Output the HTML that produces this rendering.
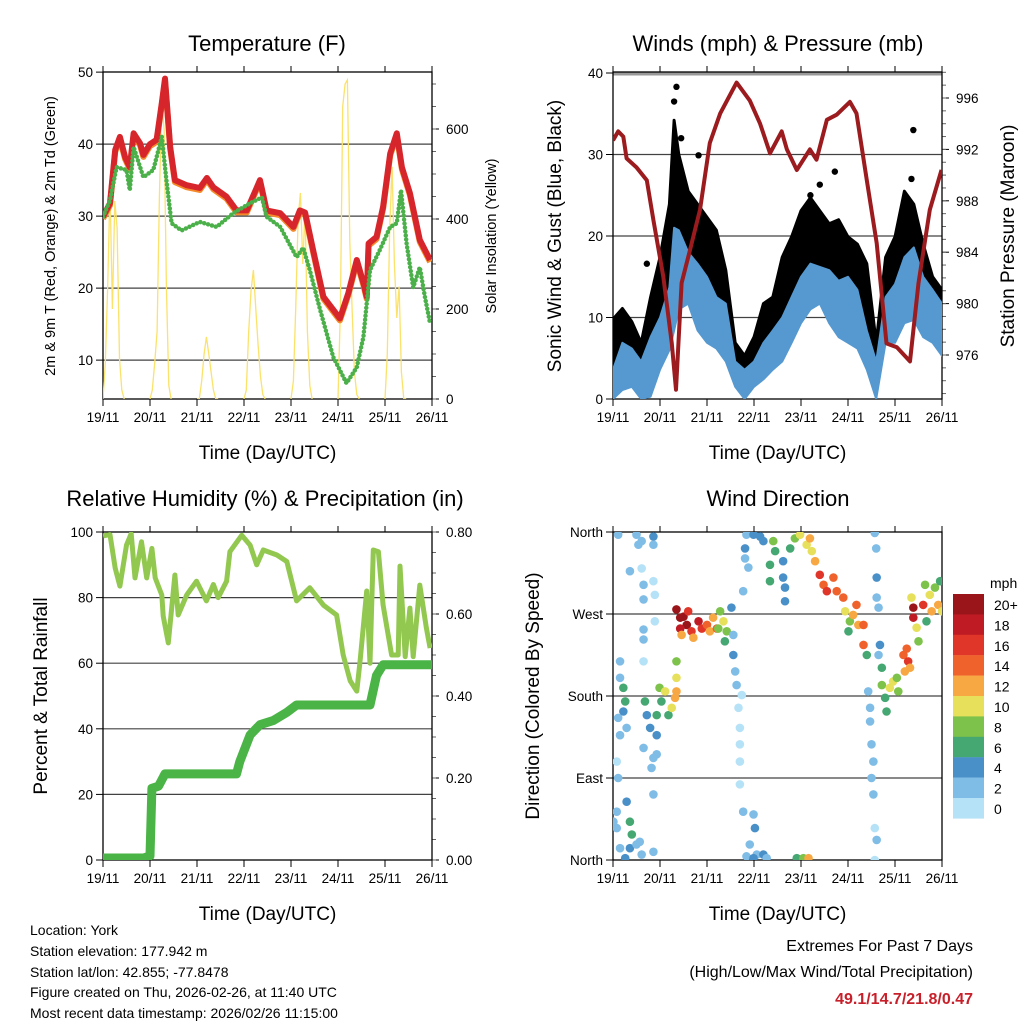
<!DOCTYPE html>
<html><head><meta charset="utf-8"><style>
html,body{margin:0;padding:0;background:#fff;}
svg{display:block;font-family:"Liberation Sans",Arial,sans-serif;}
</style></head><body>
<svg id="c" width="1024" height="1024" viewBox="0 0 1024 1024" xmlns="http://www.w3.org/2000/svg">
<rect x="0" y="0" width="1024" height="1024" fill="#fff"/>
<defs>
<clipPath id="cp1"><rect x="103" y="72" width="329" height="327"/></clipPath>
<clipPath id="cp2"><rect x="613" y="72" width="329" height="327"/></clipPath>
<clipPath id="cp3"><rect x="103" y="532" width="329" height="328"/></clipPath>
<clipPath id="cp4"><rect x="613" y="532" width="329" height="328"/></clipPath>
</defs>
<g font-size="14" fill="#000">
<text x="30" y="935">Location: York</text>
<text x="30" y="956">Station elevation: 177.942 m</text>
<text x="30" y="977">Station lat/lon: 42.855; -77.8478</text>
<text x="30" y="997">Figure created on Thu, 2026-02-26, at 11:40 UTC</text>
<text x="30" y="1018">Most recent data timestamp: 2026/02/26 11:15:00</text>
</g>
<g text-anchor="end" font-size="16">
<text x="973" y="951">Extremes For Past 7 Days</text>
<text x="973" y="977">(High/Low/Max Wind/Total Precipitation)</text>
<text x="973" y="1004" fill="#c8202a" font-weight="bold">49.1/14.7/21.8/0.47</text>
</g>
</svg>
<script>
// ---------- DATA ----------
const dayLabels=["19/11","20/11","21/11","22/11","23/11","24/11","25/11","26/11"];
const tempT=[0,0.15,0.26,0.36,0.47,0.57,0.65,0.79,0.86,1.0,1.14,1.25,1.32,1.43,1.53,1.78,2.06,2.21,2.35,2.63,2.84,3.06,3.34,3.48,3.77,4.05,4.19,4.30,4.47,4.69,5.04,5.22,5.40,5.54,5.61,5.65,5.82,5.96,6.11,6.25,6.36,6.53,6.74,6.96];
const tempV=[29.9,31.8,39.2,41,38.2,36.8,41.5,40.1,38.5,40,40.6,45.7,49.1,39.6,35,34.3,33.9,35.3,34,32.7,30.8,30.8,35,30.8,30.4,28.5,30.8,30.5,25.3,18.8,15.8,19.3,23.9,20.7,18.8,26.2,27.1,31.3,38.7,41.5,36.8,33.2,26.7,23.9];
const dewT=[0,0.15,0.29,0.5,0.57,0.65,0.86,1.07,1.25,1.35,1.46,1.67,2.06,2.42,2.77,3.13,3.38,3.48,3.77,4.12,4.26,4.40,4.62,4.90,5.18,5.40,5.54,5.68,5.89,6.11,6.25,6.34,6.46,6.60,6.74,6.85,6.96];
const dewV=[29.9,32.2,36.8,36.4,33.6,39.6,35.4,36.4,41,35,29,28,29.2,28.5,30.4,31.8,32.6,29.9,28.5,24.3,25.6,22.5,17,10.4,6.8,9,13.2,22.5,25.3,28.5,29,33.6,26.2,20.1,22.9,18.8,15.1];
const solarStart=[0,1,2,3,4,5,6];
const solarOffsets=[0,0.05,0.1,0.15,0.2,0.25,0.3,0.35,0.4,0.45];
const solarValues=[
 [0,80,250,470,200,440,380,90,20,0],
 [0,20,80,150,450,664,600,250,30,0],
 [0,0,40,100,138,100,60,20,0,0],
 [0,20,150,240,287,200,120,50,10,0],
 [0,40,200,400,458,300,420,150,30,0],
 [0,200,650,700,709,350,200,60,10,0],
 [0,100,380,516,300,180,250,60,0,0]];
const windT=[0,0.2,0.4,0.6,0.8,1.0,1.2,1.3,1.4,1.6,1.8,2.0,2.2,2.4,2.6,2.8,3.0,3.2,3.4,3.6,3.8,4.0,4.2,4.4,4.6,4.8,5.0,5.2,5.4,5.6,5.8,6.0,6.2,6.4,6.6,6.8,7.0];
const windHi=[3.6,6.9,6.2,4.6,7.6,10,13.7,21,20.7,18,16.6,15,12.5,11.7,4.6,3.6,4.6,6.9,8.4,10,12.5,15,16.6,16.2,15.8,14.5,15,13.4,8.4,4.6,12.5,14.1,17.4,18.6,15,13.4,11.7];
const windLo=[0,1.1,1.5,0,0.3,3.6,6,8.4,11,11.7,8.4,6.9,6.2,4.6,1.5,0,1.5,2.4,3.6,4.6,6.9,9.3,11,11.7,9.3,7.6,6.9,6.2,3.6,0,6.9,6.9,9.3,9.7,7.6,6.9,5.3];
const gustHi=[9.8,11.1,9.5,6.9,12.5,17.4,23.9,34.2,30,25.5,23.9,22.3,20.7,15.8,6.9,5.3,7.6,11.7,12.5,17.4,19.9,23.1,24.7,23.1,21.5,22,19.9,19,16.6,6.9,17.4,19.9,25.5,23.9,19,15,13.4];
const gustOutT=[1.35,6.39,4.4,4.72,1.82,0.72,1.3,1.45,4.2,6.35];
const gustOutV=[38.3,33.0,26.3,27.9,29.9,16.6,36.5,32,25,27];
const presT=[0,0.11,0.22,0.29,0.5,0.72,0.86,1.07,1.25,1.34,1.46,1.64,1.85,2.06,2.28,2.63,2.91,3.13,3.34,3.59,3.7,3.91,4.19,4.33,4.55,4.76,5.04,5.18,5.4,5.61,5.82,6.04,6.32,6.5,6.74,6.99];
const presV=[992.7,993.4,993,991.3,990.6,989.6,986.5,982.1,976.9,973.3,981.6,984.2,987.3,992.5,994.8,997.2,995.8,994,991.7,993.4,992,990.4,992,991.2,994.3,994.7,995.7,994.8,989.6,984.7,976.9,976.6,975.5,981.6,987.3,990.4];
const rhT=[0,0.15,0.26,0.36,0.5,0.6,0.68,0.82,0.93,1.04,1.11,1.25,1.28,1.39,1.53,1.6,1.78,1.99,2.2,2.35,2.45,2.63,2.7,2.95,3.13,3.27,3.41,3.7,3.91,4.12,4.4,4.69,4.97,5.11,5.26,5.4,5.47,5.61,5.68,5.75,5.86,5.96,6.14,6.28,6.32,6.43,6.53,6.6,6.74,6.88,6.96];
const rhV=[98.8,99.2,89,83.5,96,99.5,86,97,86,95,86,80.8,74.4,66.2,86.9,74.7,80.8,85,79,84,80,85,94,99,96,90,94.5,93,91,79,83,77.7,74.7,62.5,54.6,51.5,60.7,82,60,94.5,94,77.7,62.5,62.5,89.6,62,76.8,62,83.8,70.7,64.6];
const prT=[0,0.86,1.0,1.04,1.18,1.32,2.84,2.91,3.13,3.34,3.62,3.91,4.12,5.68,5.82,5.96,7.0];
const prV=[0.005,0.005,0.01,0.175,0.18,0.21,0.21,0.24,0.305,0.33,0.34,0.36,0.378,0.378,0.45,0.476,0.476];
const dirT=[0.08,0.08,0.15,0.36,0.40,0.36,0.5,0.57,0.61,0.86,0.86,0.29,0.26,0.01,
 0.11,0.5,0.54,0.61,0.86,0.86,0.36,0.61,0.65,0.65,0.86,0.89,0.89,0.65,0.65,0.65,
 0.15,0.15,0.22,0.26,0.22,0.11,0.29,0.15,0.08,0.11,
 0.68,0.72,0.79,0.93,0.93,1.03,0.99,1.11,1.18,1.25,1.32,1.35,1.35,1.35,0.65,0.93,0.82,0.86,
 1.35,1.43,1.5,1.57,1.43,1.46,1.67,1.71,1.82,1.89,2.0,2.06,2.13,2.21,2.28,2.35,2.42,2.38,2.24,1.6,
 2.52,2.56,2.56,2.6,2.63,2.67,2.7,2.7,2.7,2.7,2.77,2.99,3.02,2.91,2.84,3.06,3.2,3.27,2.99,2.74,
 2.84,2.99,3.13,3.2,2.81,2.81,2.77,2.88,
 3.41,3.45,3.34,3.34,3.62,3.62,3.66,3.66,3.77,3.87,
 3.98,4.12,4.19,4.23,
 4.3,4.4,4.48,4.55,4.69,4.76,4.9,4.94,5.04,5.18,5.22,5.33,5.33,5.4,5.01,5.11,
 5.57,5.6,5.61,5.61,5.65,5.68,5.65,5.43,5.47,5.47,5.5,5.54,5.5,5.54,5.57,5.61,5.57,
 5.72,5.72,5.79,5.89,5.96,6.04,6.07,6.18,6.25,6.28,6.32,6.21,5.82,
 6.35,6.39,6.39,6.46,6.5,6.6,6.64,6.74,6.78,6.85,6.92,6.96,7.0,6.67,
 3.91,4.05,4.16];
const dirDeg=[53,35,13,42,28,13,17,20,6,72,9,64,2,42,
 357,357,346,350,355,346,317,320,302,286,306,291,262,253,242,218,
 218,200,189,174,163,156,145,137,108,90,
 174,159,145,137,159,174,189,185,159,167,178,185,200,218,123,116,101,112,
 275,266,267,258,254,247,251,244,262,254,258,251,266,254,273,262,251,240,254,273,
 277,247,225,207,192,167,145,127,108,83,53,50,35,17,4,6,6,2,2,181,
 357,357,355,350,342,331,295,321,
 350,339,324,306,328,310,299,284,342,353,
 357,346,353,339,
 328,313,302,295,310,295,288,273,262,280,258,258,236,225,251,269,
 359,342,310,288,277,236,225,185,167,152,127,108,90,72,35,22,0,
 211,192,178,189,196,200,185,225,232,218,211,207,163,
 288,277,266,255,240,280,302,291,273,299,280,306,273,262,
 2,2,2];
const dirSpd=[2,2,3,6,6,5,3,2,3,2,3,4,4,2,
 2,2,2,2,4,2,3,1,2,3,1,1,1,2,2,1,
 3,2,6,6,4,2,2,2,1,2,
 6,4,4,4,6,7,9,10,7,11,12,12,10,8,2,3,2,2,
 20,20,21,20,18,12,17,13,18,16,14,13,12,15,9,10,8,7,9,16,
 4,3,4,2,2,1,1,1,1,1,2,2,4,2,2,3,4,3,4,1,
 2,4,4,4,4,2,2,3,
 8,7,6,6,4,4,4,4,6,8,
 10,10,12,11,
 12,16,15,16,14,15,14,10,8,14,12,14,15,7,6,12,
 2,2,4,2,2,4,3,2,2,2,2,2,3,2,1,2,1,
 6,8,6,10,10,8,8,14,14,17,12,12,6,
 10,20,18,10,8,16,8,10,12,8,12,6,10,6,
 7,8,12];
const cbLabels=["0","2","4","6","8","10","12","14","16","18","20+"];
const cbColors=["#b6e2f7","#7fbce6","#4a90c8","#45a771","#7dc24a","#e6e05a","#f8a843","#f0622b","#e0362a","#bf1b24","#9a1519"];
const tempTicks=[10,20,30,40,50];
const solarTicks=[0,200,400,600];
const windTicks=[0,10,20,30,40];
const presTicks=[976,980,984,988,992,996];
const rhTicks=[0,20,40,60,80,100];
const prTicks=[0,0.2,0.4,0.6,0.8];
const dirTicks=[0,90,180,270,360];
const dirNames=["North","East","South","West","North"];

// ---------- HELPERS ----------
const NS="http://www.w3.org/2000/svg";
const svg=document.getElementById('c');
function mk(tag,attrs,parent){const e=document.createElementNS(NS,tag);for(const k in attrs)e.setAttribute(k,attrs[k]);(parent||svg).appendChild(e);return e;}
function txt(x,y,s,size,anchor,parent,rot){const e=mk('text',{x:x,y:y,'font-size':size,'text-anchor':anchor||'middle'},parent);if(rot)e.setAttribute('transform','rotate(-90 '+x+' '+y+')');e.textContent=s;return e;}
function pathD(xs,ys){return xs.map((v,i)=>(i?'L':'M')+v.toFixed(1)+' '+ys[i].toFixed(1)).join('');}

const panels=[{x0:103,y0:72,y1:399},{x0:613,y0:72,y1:399},{x0:103,y0:532,y1:860},{x0:613,y0:532,y1:860}];
const W=329;
function xd(p,d){return panels[p].x0+d*47;}
const yT=v=>399-(v-4.6)*7.2, yS=v=>399-v*0.45;
const yW=v=>399-v*8.15, yP=v=>98+(996-v)*12.85;
const yR=v=>860-v*3.28, yPr=v=>860-v*410;
const yD=v=>860-v*82/90;

function frame(p,name){
  const P=panels[p];const g=mk('g',{});
  
  
  dayLabels.forEach((l,i)=>{const x=P.x0+i*47;
    mk('line',{x1:x,x2:x,y1:P.y1,y2:P.y1+7,stroke:'#000','stroke-width':1},g);
    mk('line',{x1:x,x2:x,y1:P.y0,y2:P.y0-6,stroke:'#000','stroke-width':1},g);
    const t=txt(x,P.y1+23,l,13.5,'middle',g);
    
    
  });
  const xt=txt(P.x0+W/2,P.y1+60,'Time (Day/UTC)',19,'middle',g);
  
  
  return g;
}
function leftTicks(p,ticks,fy,labels,grid,g){
  const P=panels[p];
  ticks.forEach((v,i)=>{const y=fy(v);
    mk('line',{x1:P.x0-7,x2:P.x0,y1:y,y2:y,stroke:'#000'},g);
    if(grid&&y>P.y0+2&&y<P.y1-2)mk('line',{x1:P.x0,x2:P.x0+W,y1:y,y2:y,stroke:'#222','stroke-width':1.2,opacity:0.85},g);
    const t=txt(P.x0-10,y+5,labels?labels[i]:String(v),13.5,'end',g);
    
    
  });
}
function rightTicks(p,ticks,fy,labels,minorStep,g){
  const P=panels[p];const xr=P.x0+W;
  ticks.forEach((v,i)=>{const y=fy(v);
    mk('line',{x1:xr,x2:xr+7,y1:y,y2:y,stroke:'#000'},g);
    const t=txt(xr+14,y+5,labels?labels[i]:String(v),13.5,'start',g);
    
    
  });
  if(minorStep){const a=ticks[0],b=ticks[ticks.length-1];
    for(let v=a-minorStep*4;v<=b+minorStep*4+1e-9;v+=minorStep){const y=fy(v);if(y<P.y0||y>P.y1)continue;
      mk('line',{x1:xr,x2:xr+4,y1:y,y2:y,stroke:'#666'},g);}
  }
}
function box(p,g){const P=panels[p];mk('rect',{x:P.x0,y:P.y0,width:W,height:P.y1-P.y0,fill:'none',stroke:'#000','stroke-width':1.3},g);}

// ---------- PANEL 1: TEMPERATURE ----------
{
 const g=frame(0,'temperature');
 leftTicks(0,tempTicks,yT,null,true,g);
 rightTicks(0,solarTicks,yS,null,50,g);
 const pl=mk('g',{'clip-path':'url(#cp1)'});
 
 
 solarValues.forEach((vals,di)=>{
   const xs=vals.map((v,i)=>xd(0,solarStart[di]+solarOffsets[i]));
   const ys=vals.map(v=>yS(v));
   const s=mk('path',{d:pathD(xs,ys),fill:'none',stroke:'#fbe26a','stroke-width':1.3},pl);
   
   
 });
 const xs=tempT.map(d=>xd(0,d));
 const o=mk('path',{d:pathD(xs,tempV.map(v=>yT(v)+2)),fill:'none',stroke:'#f58a2a','stroke-width':6,'stroke-linejoin':'round'},pl);
 
 
 const r=mk('path',{d:pathD(xs,tempV.map(yT)),fill:'none',stroke:'#d7262b','stroke-width':6,'stroke-linejoin':'round'},pl);
 
 
 const gr=mk('path',{d:pathD(dewT.map(d=>xd(0,d)),dewV.map(yT)),fill:'none',stroke:'#4bb04a','stroke-width':4.5,'stroke-dasharray':'0 4','stroke-linecap':'round'},pl);
 
 
 box(0,g);
 const t=txt(267,51,'Temperature (F)',22,'middle');
 
 
 const a=txt(55,236,'2m & 9m T (Red, Orange) & 2m Td (Green)',14.5,'middle',null,true);
 
 
 const b=txt(496,236,'Solar Insolation (Yellow)',14.5,'middle',null,true);
 
 
}

// ---------- PANEL 2: WINDS ----------
{
 const g=frame(1,'winds');
 leftTicks(1,windTicks,yW,null,true,g);
 rightTicks(1,presTicks,yP,null,1,g);
 const pl=mk('g',{'clip-path':'url(#cp2)'});
 
 
 const xs=windT.map(d=>xd(1,d));
 const gd=pathD(xs,gustHi.map(yW))+pathD(xs.slice().reverse(),windHi.map(yW).reverse()).replace('M','L')+'Z';
 const gb=mk('path',{d:gd,fill:'#000',stroke:'#000','stroke-width':3,'stroke-linejoin':'round'},pl);
 
 
 gustOutT.forEach((d,i)=>{const c=mk('circle',{cx:xd(1,d),cy:yW(gustOutV[i]),r:3.2,fill:'#000'},pl);
   
   });
 const wd=pathD(xs,windHi.map(yW))+pathD(xs.slice().reverse(),windLo.map(yW).reverse()).replace('M','L')+'Z';
 const wb=mk('path',{d:wd,fill:'#5599d0',stroke:'#5599d0','stroke-width':2,'stroke-linejoin':'round'},pl);
 
 
 const pr=mk('path',{d:pathD(presT.map(d=>xd(1,d)),presV.map(yP)),fill:'none',stroke:'#9b1b1e','stroke-width':4,'stroke-linejoin':'round'},pl);
 
 
 mk('line',{x1:613,x2:942,y1:74,y2:74,stroke:'#999','stroke-width':3},g);
 box(1,g);
 const t=txt(778,51,'Winds (mph) & Pressure (mb)',22,'middle');
 
 
 const a=txt(561,236,'Sonic Wind & Gust (Blue, Black)',19,'middle',null,true);
 
 
 const b=txt(1014,236,'Station Pressure (Maroon)',19,'middle',null,true);
 
 
}

// ---------- PANEL 3: RH & PRECIP ----------
{
 const g=frame(2,'humidity');
 leftTicks(2,rhTicks,yR,null,true,g);
 rightTicks(2,prTicks,yPr,prTicks.map(v=>v.toFixed(2)),0.05,g);
 const pl=mk('g',{'clip-path':'url(#cp3)'});
 
 
 const rh=mk('path',{d:pathD(rhT.map(d=>xd(2,d)),rhV.map(yR)),fill:'none',stroke:'#92c850','stroke-width':5,'stroke-linejoin':'round'},pl);
 
 
 const p=mk('path',{d:pathD(prT.map(d=>xd(2,d)),prV.map(yPr)),fill:'none',stroke:'#4ab446','stroke-width':9,'stroke-linejoin':'round','stroke-linecap':'round'},pl);
 
 
 box(2,g);
 const t=txt(265,506,'Relative Humidity (%) & Precipitation (in)',22,'middle');
 
 
 const a=txt(47,696,'Percent & Total Rainfall',19,'middle',null,true);
 
 
}

// ---------- PANEL 4: WIND DIRECTION ----------
{
 const g=frame(3,'wind-direction');
 leftTicks(3,dirTicks,yD,dirNames,true,g);
 const pl=mk('g',{'clip-path':'url(#cp4)'});
 
 
 dirT.forEach((d,i)=>{
   const idx=Math.min(10,Math.floor(dirSpd[i]/2));
   const c=mk('circle',{cx:xd(3,d),cy:yD(dirDeg[i]),r:4.3,fill:cbColors[idx]},pl);
   
   
 });
 box(3,g);
 const t=txt(778,506,'Wind Direction',22,'middle');
 
 
 const a=txt(539,696,'Direction (Colored By Speed)',19,'middle',null,true);
 
 
 const cb=mk('g',{});
 
 
 const u=txt(990,588,'mph',14,'start',cb);
 
 
 cbColors.forEach((col,i)=>{
   const k=10-i; const y=594+i*20.4;
   const r=mk('rect',{x:953,y:y,width:31,height:20.6,fill:cbColors[k]},cb);
   
   
   const l=txt(994,y+16,cbLabels[k],14,'start',cb);
   
   
 });
}
</script>
</body></html>
